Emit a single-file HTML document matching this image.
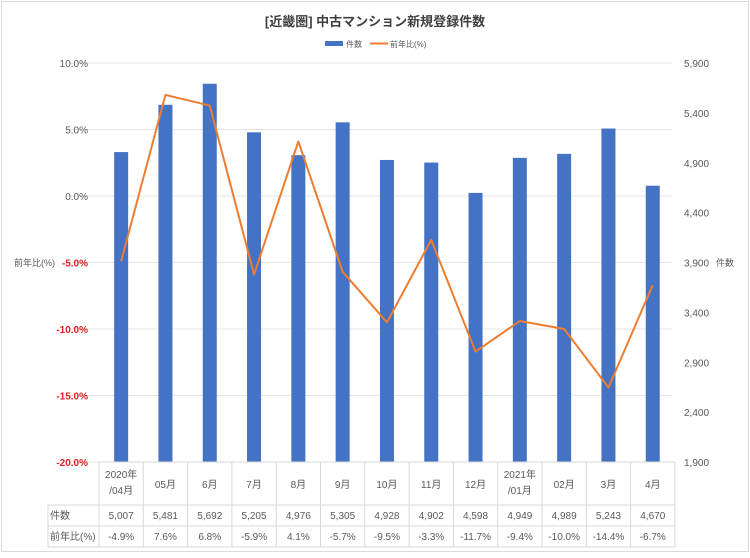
<!DOCTYPE html>
<html><head><meta charset="utf-8"><style>
body{margin:0;background:#fff;font-family:"Liberation Sans","Noto Sans CJK JP",sans-serif;}
#wrap{position:relative;width:750px;height:553px;}
svg text{font-family:"Liberation Sans","Noto Sans CJK JP",sans-serif;}
</style></head><body><div id="wrap">
<svg id="c" width="750" height="553"></svg></div>
<script>
const categories=["2020年|/04月","05月","6月","7月","8月","9月","10月","11月","12月","2021年|/01月","02月","3月","4月"];
const counts=[5007,5481,5692,5205,4976,5305,4928,4902,4598,4949,4989,5243,4670];
const yoy=[-4.9,7.6,6.8,-5.9,4.1,-5.7,-9.5,-3.3,-11.7,-9.4,-10.0,-14.4,-6.7];
const leftTicks=[10,5,0,-5,-10,-15,-20];
const rightTicks=[5900,5400,4900,4400,3900,3400,2900,2400,1900];
const NS="http://www.w3.org/2000/svg",svg=document.getElementById('c');
function mk(t,a,p){const e=document.createElementNS(NS,t);for(const k in a)e.setAttribute(k,a[k]);(p||svg).appendChild(e);return e;}
const X0=99,CW=44.3,TOP=63,BOT=462;
const yL=v=>TOP+(10-v)/30*(BOT-TOP);
const yR=v=>TOP+(5900-v)/4000*(BOT-TOP);
const xC=i=>X0+CW*i+CW/2;
let e=mk('rect',{x:1.5,y:1.5,width:747,height:550,fill:'#fff',stroke:'#d9d9d9'});

e=mk('text',{x:375,y:26,'text-anchor':'middle','font-size':13,'font-weight':'bold',fill:'#404040'});e.textContent='[近畿圏] 中古マンション新規登録件数';

e=mk('rect',{x:325,y:41,width:18,height:5,fill:'#4472c4'});
e=mk('text',{x:346,y:47,'font-size':8,fill:'#595959'});e.textContent='件数';
e=mk('line',{x1:370,y1:43.5,x2:388,y2:43.5,stroke:'#ed7d31','stroke-width':2});
e=mk('text',{x:390,y:47,'font-size':8,fill:'#595959'});e.textContent='前年比(%)';
leftTicks.forEach(v=>{const y=yL(v);
 e=mk('line',{x1:70,y1:y,x2:672,y2:y,stroke:'#e4e4e4'});
 e=mk('text',{x:88,y:y+4,'text-anchor':'end','font-size':10,fill:v<0?'#e02020':'#595959','font-weight':v<0?'bold':'normal'});e.textContent=v.toFixed(1)+'%';
 });
rightTicks.forEach(v=>{e=mk('text',{x:684,y:yR(v)+4,'font-size':10,fill:'#595959'});e.textContent=v.toLocaleString('en-US');
 });
e=mk('text',{x:14,y:266,'font-size':9,fill:'#595959'});e.textContent='前年比(%)';
e=mk('text',{x:716,y:266,'font-size':9,fill:'#595959'});e.textContent='件数';
counts.forEach((v,i)=>{const y=yR(v);e=mk('rect',{x:xC(i)-7,y:y,width:14,height:BOT-y,fill:'#4472c4'});
 });
e=mk('polyline',{points:yoy.map((v,i)=>xC(i)+','+yL(v)).join(' '),fill:'none',stroke:'#ed7d31','stroke-width':2,'stroke-linejoin':'round'});

const R=[462,505,526,547],XE=X0+CW*13;
[[X0,R[0]],[48,R[1]],[48,R[2]],[48,R[3]]].forEach(([x,y])=>{e=mk('line',{x1:x,y1:y,x2:XE,y2:y,stroke:'#d9d9d9'});});
e=mk('line',{x1:48,y1:R[1],x2:48,y2:R[3],stroke:'#d9d9d9'});
for(let i=0;i<=13;i++){e=mk('line',{x1:X0+CW*i,y1:R[0],x2:X0+CW*i,y2:R[3],stroke:'#d9d9d9'});}
categories.forEach((c,i)=>{const parts=c.split('|');
 parts.forEach((p,j)=>{e=mk('text',{x:xC(i),y:parts.length>1?478+j*16:488,'text-anchor':'middle','font-size':10,fill:'#595959'});e.textContent=p;
 });
 e=mk('text',{x:xC(i),y:519,'text-anchor':'middle','font-size':10,fill:'#595959'});e.textContent=counts[i].toLocaleString('en-US');
 e=mk('text',{x:xC(i),y:540,'text-anchor':'middle','font-size':10,fill:'#595959'});e.textContent=yoy[i].toFixed(1)+'%';});
e=mk('text',{x:50,y:519,'font-size':10,fill:'#595959'});e.textContent='件数';
e=mk('text',{x:50,y:540,'font-size':10,fill:'#595959'});e.textContent='前年比(%)';
</script></body></html>
